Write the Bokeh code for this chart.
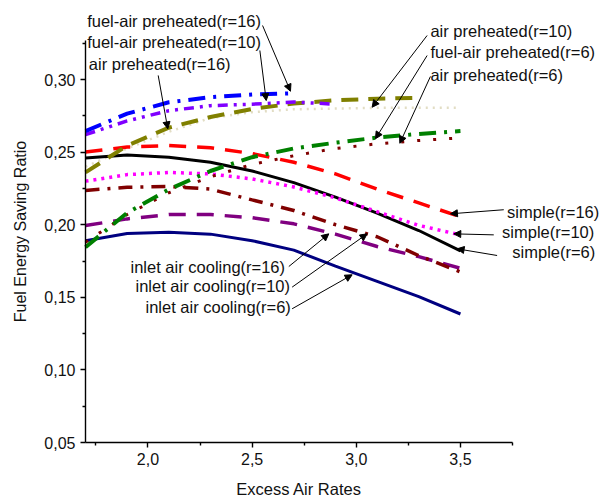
import math
from bokeh.plotting import figure
from bokeh.models import Range1d, FixedTicker, Label, Arrow, NormalHead, ColumnDataSource
from bokeh.embed import file_html
from bokeh.resources import INLINE

# ---------------- data ----------------
excess_air = [1.7, 1.9, 2.1, 2.3, 2.5, 2.7, 2.9, 3.1, 3.3, 3.5]

simple_r6 = [0.246, 0.248, 0.2465, 0.243, 0.237, 0.229, 0.219, 0.208, 0.196, 0.182]
simple_r10 = [0.230, 0.2345, 0.236, 0.235, 0.2315, 0.226, 0.2185, 0.209, 0.1995, 0.193]
simple_r16 = [0.250, 0.2535, 0.2545, 0.253, 0.249, 0.243, 0.235, 0.2245, 0.215, 0.2055]

inlet_r6 = [0.189, 0.194, 0.1948, 0.1935, 0.189, 0.1825, 0.1715, 0.161, 0.1505, 0.1385]
inlet_r10 = [0.2236, 0.2258, 0.2263, 0.2245, 0.2171, 0.2098, 0.200, 0.1917, 0.1787, 0.1675]
inlet_r16 = [0.1994, 0.204, 0.207, 0.207, 0.2048, 0.2006, 0.1935, 0.185, 0.178, 0.170]

fuelair_r6 = [0.1845, 0.2082, 0.2243, 0.2370, 0.2465, 0.2525, 0.2565, 0.2600, 0.2625, 0.2645]
fuelair_r10 = [0.262, 0.2715, 0.2785, 0.282, 0.283, 0.2845, 0.283]
fuelair_r16 = [0.2645, 0.2765, 0.2843, 0.2878, 0.2896, 0.2905]

air_r6 = [0.188, 0.207, 0.222, 0.233, 0.2415, 0.2475, 0.2525, 0.2557, 0.2580, 0.2598]
air_r10 = [0.240, 0.2525, 0.264, 0.2735, 0.2775, 0.2795, 0.2800, 0.2805, 0.2805, 0.2805]
air_r16 = [0.236, 0.2545, 0.2668, 0.2742, 0.2797, 0.2835, 0.2857, 0.2868, 0.2874]

x_ticks = [2.0, 2.5, 3.0, 3.5]
x_tick_labels = ["2,0", "2,5", "3,0", "3,5"]
x_minor = [1.75, 2.25, 2.75, 3.25, 3.75]
y_ticks = [0.05, 0.10, 0.15, 0.20, 0.25, 0.30]
y_tick_labels = ["0,05", "0,10", "0,15", "0,20", "0,25", "0,30"]
y_minor = [0.075, 0.125, 0.175, 0.225, 0.275, 0.325]
x_axis_span = (1.7, 3.75)
y_axis_span = (0.05, 0.327)

# annotation texts
ann_texts = [
    "fuel-air preheated(r=16)", "fuel-air preheated(r=10)", "air preheated(r=16)",
    "air preheated(r=10)", "fuel-air preheated(r=6)", "air preheated(r=6)",
    "simple(r=16)", "simple(r=10)", "simple(r=6)",
    "inlet air cooling(r=16)", "inlet air cooling(r=10)", "inlet air cooling(r=6)",
]
ann_x = [1.708, 1.708, 1.716, 3.356, 3.356, 3.356, 3.724, 3.700, 3.749, 1.916, 1.940, 1.988]
ann_y = [0.3402, 0.3257, 0.3108, 0.3333, 0.3188, 0.3034, 0.2086, 0.1948, 0.1811, 0.1712, 0.1581, 0.1432]
arr_x0 = [2.550, 2.537, 2.049, 3.340, 3.340, 3.356, 3.708, 3.660, 3.676, 2.676, 2.692, 2.692]
arr_y0 = [0.3372, 0.3200, 0.3028, 0.3303, 0.3165, 0.3021, 0.2103, 0.1930, 0.1788, 0.1712, 0.1570, 0.1421]
arr_x1 = [2.684, 2.5675, 2.095, 3.076, 3.092, 3.209, 3.452, 3.468, 3.484, 2.868, 3.052, 2.980]
arr_y1 = [0.2919, 0.2855, 0.2660, 0.2809, 0.2592, 0.2561, 0.2075, 0.1937, 0.1834, 0.1937, 0.1937, 0.1655]

FONT = "Liberation Sans"

# the frame covers the whole canvas so that the annotations outside the axes are not clipped
p = figure(width=600, height=498, output_backend="svg", toolbar_location=None,
           x_range=Range1d(1.2919, 4.1724), y_range=Range1d(0.011433, 0.35441),
           min_border=0)
p.xgrid.visible = False
p.ygrid.visible = False
p.outline_line_color = None
p.background_fill_color = "white"
p.border_fill_color = "white"

p.xaxis[0].fixed_location = y_axis_span[0]
p.yaxis[0].fixed_location = x_axis_span[0]
p.xaxis[0].bounds = x_axis_span
p.yaxis[0].bounds = y_axis_span

for ax, ticks, minor, labels in ((p.xaxis[0], x_ticks, x_minor, x_tick_labels),
                                 (p.yaxis[0], y_ticks, y_minor, y_tick_labels)):
    ax.ticker = FixedTicker(ticks=ticks, minor_ticks=minor)
    ax.major_label_overrides = dict(zip(ticks, labels))
    ax.major_tick_in = 0
    ax.major_tick_out = 5
    ax.minor_tick_in = 0
    ax.minor_tick_out = 3
    ax.axis_line_width = 1.4
    ax.major_tick_line_width = 1.4
    ax.minor_tick_line_width = 1.4
    ax.axis_line_color = "black"
    ax.major_tick_line_color = "black"
    ax.minor_tick_line_color = "black"
    ax.major_label_text_font = FONT
    ax.major_label_text_font_size = "16px"
    ax.major_label_text_color = "#111111"
    ax.major_label_standoff = 5

# ---------------- series ----------------
series = [
    (excess_air, air_r10, "#E2DDC4", 2.5, "2 5"),
    (excess_air, simple_r6, "black", 3, "solid"),
    (excess_air, simple_r16, "#FF0000", 3.5, "17 11"),
    (excess_air, simple_r10, "#FF00FF", 3.5, "3 5"),
    (excess_air, inlet_r6, "#000080", 3, "solid"),
    (excess_air, inlet_r16, "#800080", 3.5, "17 11"),
    (excess_air, inlet_r10, "#800000", 3.5, "14 8 3 8"),
    (excess_air, air_r6, "#800000", 3, "3 13"),
    (excess_air, fuelair_r6, "#008000", 4, "17 8 3 8"),
    (excess_air[:len(air_r16)], air_r16, "#808000", 4, "17 10"),
    (excess_air[:len(fuelair_r10)], fuelair_r10, "#8000FF", 3.5, "10 6 3 6 3 6"),
    (excess_air[:len(fuelair_r16)], fuelair_r16, "#0000FF", 4, "17 8 3 8"),
]
for xs, ys, col, w, dash in series:
    p.line(xs, ys, line_color=col, line_width=w, line_dash=dash)

# ---------------- annotations ----------------
for t, xx, yy in zip(ann_texts, ann_x, ann_y):
    p.add_layout(Label(x=xx, y=yy, text=t, text_font=FONT, text_font_size="16.5px",
                       text_color="#111111", text_align="left", text_baseline="middle"))

arrow_src = ColumnDataSource(dict(x0=arr_x0, y0=arr_y0, x1=arr_x1, y1=arr_y1))
p.add_layout(Arrow(source=arrow_src, x_start="x0", y_start="y0", x_end="x1", y_end="y1",
                   line_color="black", line_width=1,
                   end=NormalHead(size=7, fill_color="black", line_color="black", line_width=1)))

# axis titles
p.add_layout(Label(x=1.388, y=0.1953, text="Fuel Energy Saving Ratio", angle=math.pi / 2,
                   text_font=FONT, text_font_size="16px", text_color="#111111",
                   text_align="center", text_baseline="middle"))
p.add_layout(Label(x=sum(x_axis_span) / 2, y=0.0183, text="Excess Air Rates",
                   text_font=FONT, text_font_size="16.5px", text_color="#111111",
                   text_align="center", text_baseline="middle"))

open("out.html", "w").write(file_html(p, INLINE))
